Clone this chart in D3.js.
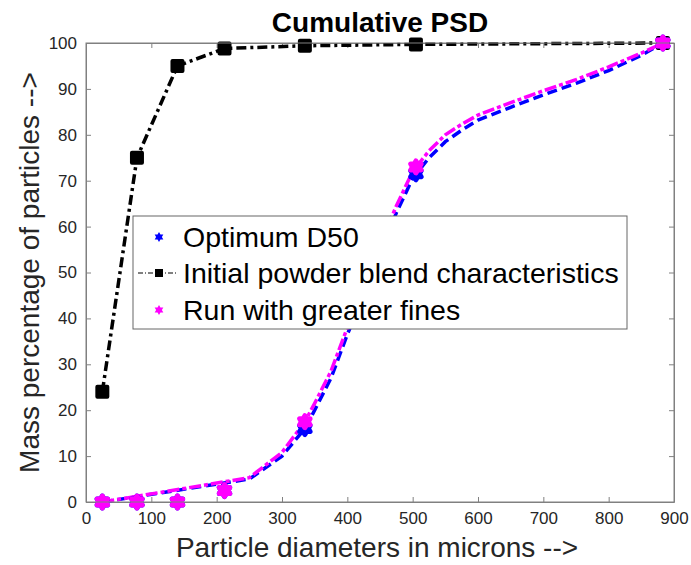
<!DOCTYPE html>
<html>
<head>
<meta charset="utf-8">
<script src="https://cdnjs.cloudflare.com/ajax/libs/d3/7.8.5/d3.min.js"></script>
<style>
  body { margin: 0; background: #fff; }
  svg { font-family: "Liberation Sans", Arial, sans-serif; }
</style>
</head>
<body>
<svg id="chart" width="691" height="565"></svg>
<script>
// sieve points (markers)
var sieveSizes = [25, 78, 140, 212, 335, 505, 883];
var initialBlend = [24, 75, 95, 98.8, 99.4, 99.7, 100];
var optimumPts = [0, 0, 0, 2.5, 16, 71.5, 100];
var finesPts = [0, 0, 0, 2.5, 17.5, 73, 100];

// fitted curves
var fitSizes = [25, 250, 300, 335, 350, 375, 400, 425, 450, 475, 500, 525, 550, 575, 600, 650, 700, 750, 800, 850, 883];
var optimumFit = [0, 5, 10, 16, 20, 27, 36.5, 45, 54, 63, 70.5, 75, 78.5, 81, 83.2, 86, 88.7, 91.2, 94, 97.3, 100];
var finesFit = [0, 5.3, 10.8, 17.5, 21.5, 28.5, 38, 47, 56, 64.5, 72, 76.5, 80, 82.3, 84.3, 87, 89.6, 92, 94.8, 97.8, 100];

var xTicks = [0, 100, 200, 300, 400, 500, 600, 700, 800, 900];
var yTicks = [0, 10, 20, 30, 40, 50, 60, 70, 80, 90, 100];
var legendLabels = ["Optimum D50", "Initial powder blend characteristics", "Run with greater fines"];

var svg = d3.select("#chart"),
    margin = {top: 43, right: 17, bottom: 63, left: 86},
    width = +svg.attr("width") - margin.left - margin.right,
    height = +svg.attr("height") - margin.top - margin.bottom,
    g = svg.append("g").attr("transform", "translate(" + margin.left + "," + margin.top + ")");

var x = d3.scaleLinear().domain([0, 900]).range([0, width]);
var y = d3.scaleLinear().domain([0, 100]).range([height, 0]);

var axisColor = "#808080", textColor = "#262626";

// hexagram marker
function hexagram(r) {
  var pts = [];
  for (var i = 0; i < 12; i++) {
    var a = -Math.PI / 2 + i * Math.PI / 6;
    var rr = i % 2 === 0 ? r : r / Math.sqrt(3);
    pts.push([rr * Math.cos(a), rr * Math.sin(a)]);
  }
  return "M" + pts.map(function(p) { return p[0].toFixed(2) + "," + p[1].toFixed(2); }).join("L") + "Z";
}

// axes
var xAxis = g.append("g")
    .attr("transform", "translate(0," + height + ")")
    .call(d3.axisBottom(x).tickValues(xTicks).tickSizeInner(-5).tickSizeOuter(0).tickPadding(10));
var yAxis = g.append("g")
    .call(d3.axisLeft(y).tickValues(yTicks).tickSizeInner(-5).tickSizeOuter(0).tickPadding(9));
var xTop = g.append("g")
    .call(d3.axisTop(x).tickValues(xTicks).tickSizeInner(-5).tickSizeOuter(0).tickFormat(""));
var yRight = g.append("g")
    .attr("transform", "translate(" + width + ",0)")
    .call(d3.axisRight(y).tickValues(yTicks).tickSizeInner(-5).tickSizeOuter(0).tickFormat(""));

[xAxis, yAxis, xTop, yRight].forEach(function(a) {
  a.select(".domain").attr("stroke", axisColor);
  a.selectAll(".tick line").attr("stroke", axisColor);
  a.selectAll(".tick text").attr("fill", textColor)
    .style("font-size", "17px").style("font-family", "'Liberation Sans', Arial, sans-serif");
});

var line = d3.line()
    .x(function(d) { return x(d[0]); })
    .y(function(d) { return y(d[1]); });

// initial blend (black)
var blendData = sieveSizes.map(function(s, i) { return [s, initialBlend[i]]; });
g.append("path")
    .datum(blendData)
    .attr("fill", "none")
    .attr("stroke", "#000")
    .attr("stroke-width", 3.5)
    .attr("stroke-dasharray", "10,4,3,4")
    .attr("d", line);
g.selectAll(".sq")
    .data(blendData)
  .enter().append("rect")
    .attr("x", function(d) { return x(d[0]) - 5; })
    .attr("y", function(d) { return y(d[1]) - 5; })
    .attr("width", 10).attr("height", 10)
    .attr("fill", "#000")
    .attr("stroke", "#000")
    .attr("stroke-width", 4)
    .attr("stroke-linejoin", "round");

// fitted curves
var optFit = fitSizes.map(function(s, i) { return [s, optimumFit[i]]; });
var fineFit = fitSizes.map(function(s, i) { return [s, finesFit[i]]; });
g.append("path")
    .datum(optFit)
    .attr("fill", "none")
    .attr("stroke", "#0000ff")
    .attr("stroke-width", 3.5)
    .attr("stroke-dasharray", "10,5")
    .attr("d", line);
g.append("path")
    .datum(fineFit)
    .attr("fill", "none")
    .attr("stroke", "#ff00ff")
    .attr("stroke-width", 3.5)
    .attr("stroke-dasharray", "12,3,4,3")
    .attr("d", line);

// sieve markers
function stars(vals, color) {
  g.append("g").selectAll("path")
      .data(sieveSizes.map(function(s, i) { return [s, vals[i]]; }))
    .enter().append("path")
      .attr("transform", function(d) { return "translate(" + x(d[0]) + "," + y(d[1]) + ")"; })
      .attr("d", hexagram(6))
      .attr("fill", color)
      .attr("stroke", color)
      .attr("stroke-width", 5)
      .attr("stroke-linejoin", "round");
}
stars(optimumPts, "#0000ff");
stars(finesPts, "#ff00ff");

// box outline
g.append("rect")
    .attr("width", width).attr("height", height)
    .attr("fill", "none").attr("stroke", axisColor);

// title and axis labels
svg.append("text")
    .attr("x", 380).attr("y", 32)
    .attr("text-anchor", "middle")
    .style("font-size", "28px").style("font-weight", "bold")
    .attr("fill", "#000")
    .text("Cumulative PSD");
svg.append("text")
    .attr("x", margin.left + width / 2 - 3).attr("y", 557)
    .attr("text-anchor", "middle")
    .style("font-size", "28px")
    .attr("fill", textColor)
    .text("Particle diameters in microns -->");
svg.append("text")
    .attr("transform", "translate(39," + (margin.top + height / 2) + ") rotate(-90)")
    .attr("text-anchor", "middle")
    .style("font-size", "28px")
    .attr("fill", textColor)
    .text("Mass percentage of particles -->");

// legend
var leg = svg.append("g").attr("transform", "translate(133,216)");
leg.append("rect")
    .attr("width", 494).attr("height", 113)
    .attr("fill", "#fff").attr("stroke", "#666").attr("stroke-width", 1);
var rowY = [21, 57, 94];
legendLabels.forEach(function(lbl, i) {
  leg.append("text")
      .attr("x", 50).attr("y", rowY[i])
      .attr("dy", "0.35em")
      .style("font-size", "28.5px")
      .attr("fill", "#000")
      .text(lbl);
});
leg.append("path")
    .attr("transform", "translate(26," + rowY[0] + ")")
    .attr("d", hexagram(5)).attr("fill", "#0000ff");
leg.append("line")
    .attr("x1", 5).attr("x2", 44).attr("y1", rowY[1]).attr("y2", rowY[1])
    .attr("stroke", "#000").attr("stroke-width", 1)
    .attr("stroke-dasharray", "5,2,1,2");
leg.append("rect")
    .attr("x", 22).attr("y", rowY[1] - 4).attr("width", 8).attr("height", 8)
    .attr("fill", "#000");
leg.append("path")
    .attr("transform", "translate(26," + rowY[2] + ")")
    .attr("d", hexagram(5)).attr("fill", "#ff00ff");
</script>
</body>
</html>
